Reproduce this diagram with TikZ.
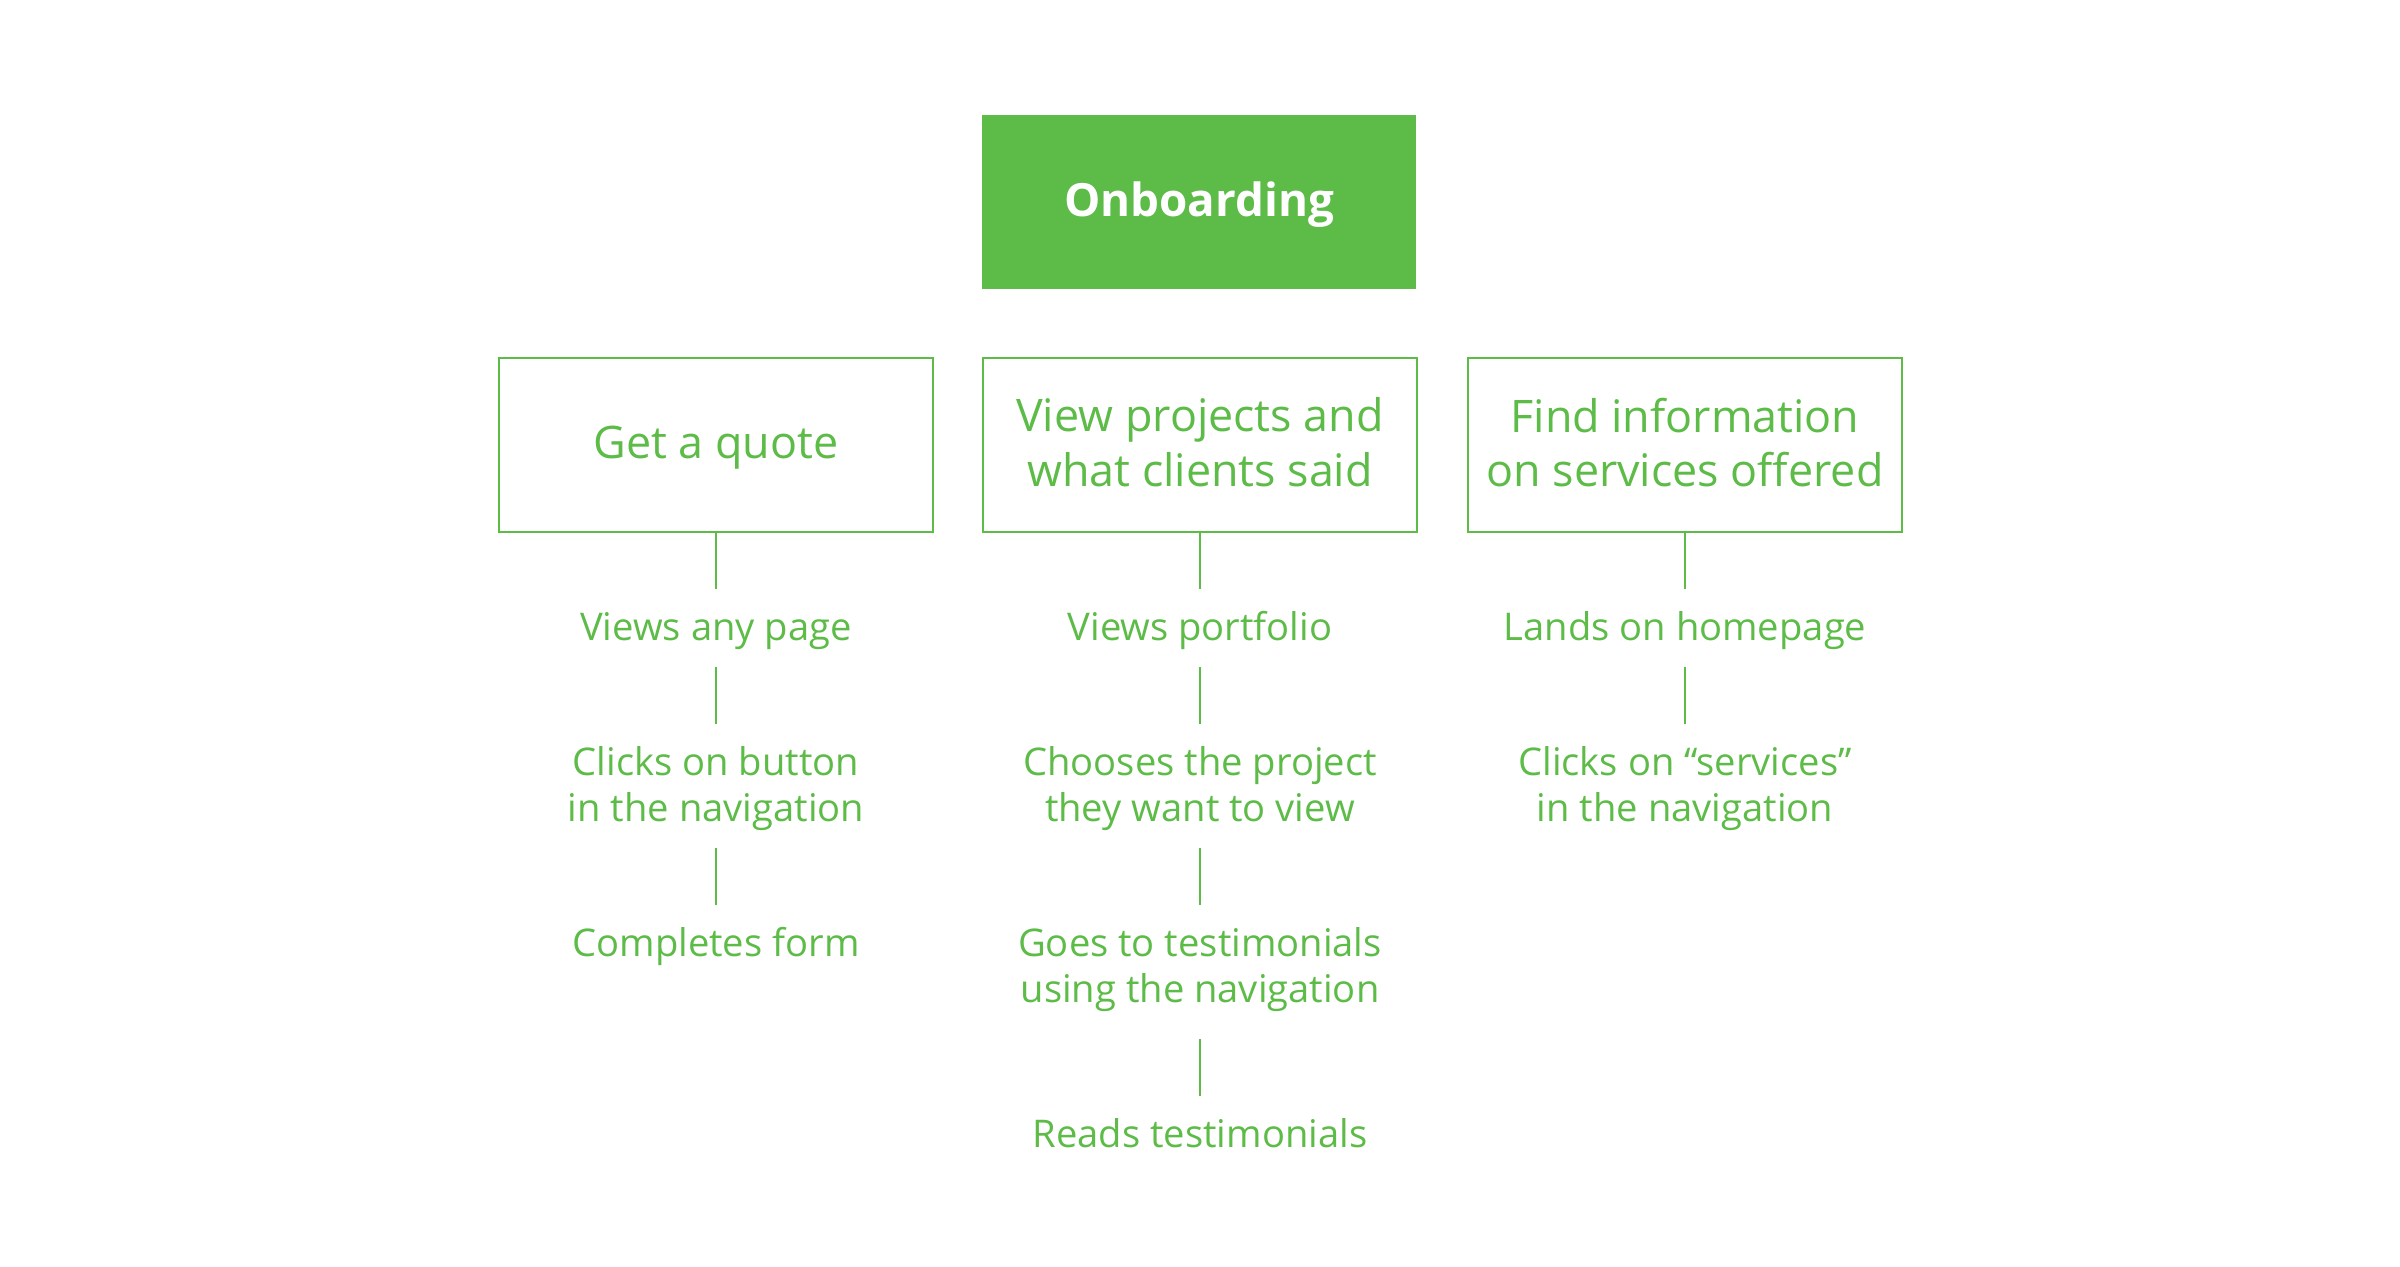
\documentclass[tikz,border=0pt]{standalone}
\usepackage{fontspec}
\setmainfont{Open Sans}
\usetikzlibrary{positioning}
\definecolor{leaf}{HTML}{5DBB47}
% invisible struts that fix how far a step label reaches above its first
% baseline and below its last one, so every connector has the same gap
\newcommand\capstrut{\rule{0pt}{14.5pt}}
\newcommand\footstrut[1][7.7pt]{\rule[-#1]{0pt}{0pt}}

\begin{document}
\begin{tikzpicture}[x=0.01cm,y=-0.01cm,
  every node/.style={inner sep=0pt, outer sep=0pt},
  headbox/.style={fill=leaf, minimum width=4.33cm, minimum height=1.73cm,
    text=white, text height=11.2pt, text depth=3pt,
    font=\fontsize{13}{16}\selectfont\bfseries},
  goalbox/.style={draw=leaf, line width=0.6pt, minimum width=4.34cm,
    minimum height=1.74cm, text=leaf, align=center,
    font=\fontsize{12.75}{15.4}\selectfont},
  stepnote/.style={text=leaf, align=center,
    font=\fontsize{10.85}{13.1}\selectfont, below=0.57cm of #1},
  link/.style={draw=leaf, line width=0.6pt}
]
\useasboundingbox (0,0) rectangle (2400,1267);

% top heading
\node[headbox] (onb) at (1199,202) {Onboarding};

% the three goals
\node[goalbox, text height=10.4pt, text depth=3pt] (quote) at (716,445) {Get a quote};
\node[goalbox] (proj) at (1200,445) {View projects and\\what clients said\rule[-1.7pt]{0pt}{0pt}};
\node[goalbox] (info) at (1685,445) {Find information\\on services offered\rule[-1.7pt]{0pt}{0pt}};

% steps under "Get a quote"
\node[stepnote=quote] (q1) {\capstrut Views any page\footstrut};
\node[stepnote=q1] (q2) {\capstrut Clicks on button\\in the navigation\footstrut};
\node[stepnote=q2] (q3) {\capstrut Completes form\footstrut};

% steps under "View projects"
\node[stepnote=proj] (p1) {\capstrut Views portfolio\footstrut};
\node[stepnote=p1] (p2) {\capstrut Chooses the project\\they want to view\footstrut};
\node[stepnote=p2] (p3) {\capstrut Goes to testimonials\\using the navigation\footstrut[10.5pt]};
\node[stepnote=p3] (p4) {\capstrut Reads testimonials\footstrut};

% steps under "Find information"
\node[stepnote=info] (i1) {\capstrut Lands on homepage\footstrut};
\node[stepnote=i1] (i2) {\capstrut Clicks on “services”\\in the navigation\footstrut};

% connectors
\foreach \a/\b in {quote/q1,q1/q2,q2/q3,proj/p1,p1/p2,p2/p3,p3/p4,info/i1,i1/i2}
  \draw[link] (\a) -- (\b);
\end{tikzpicture}
\end{document}
